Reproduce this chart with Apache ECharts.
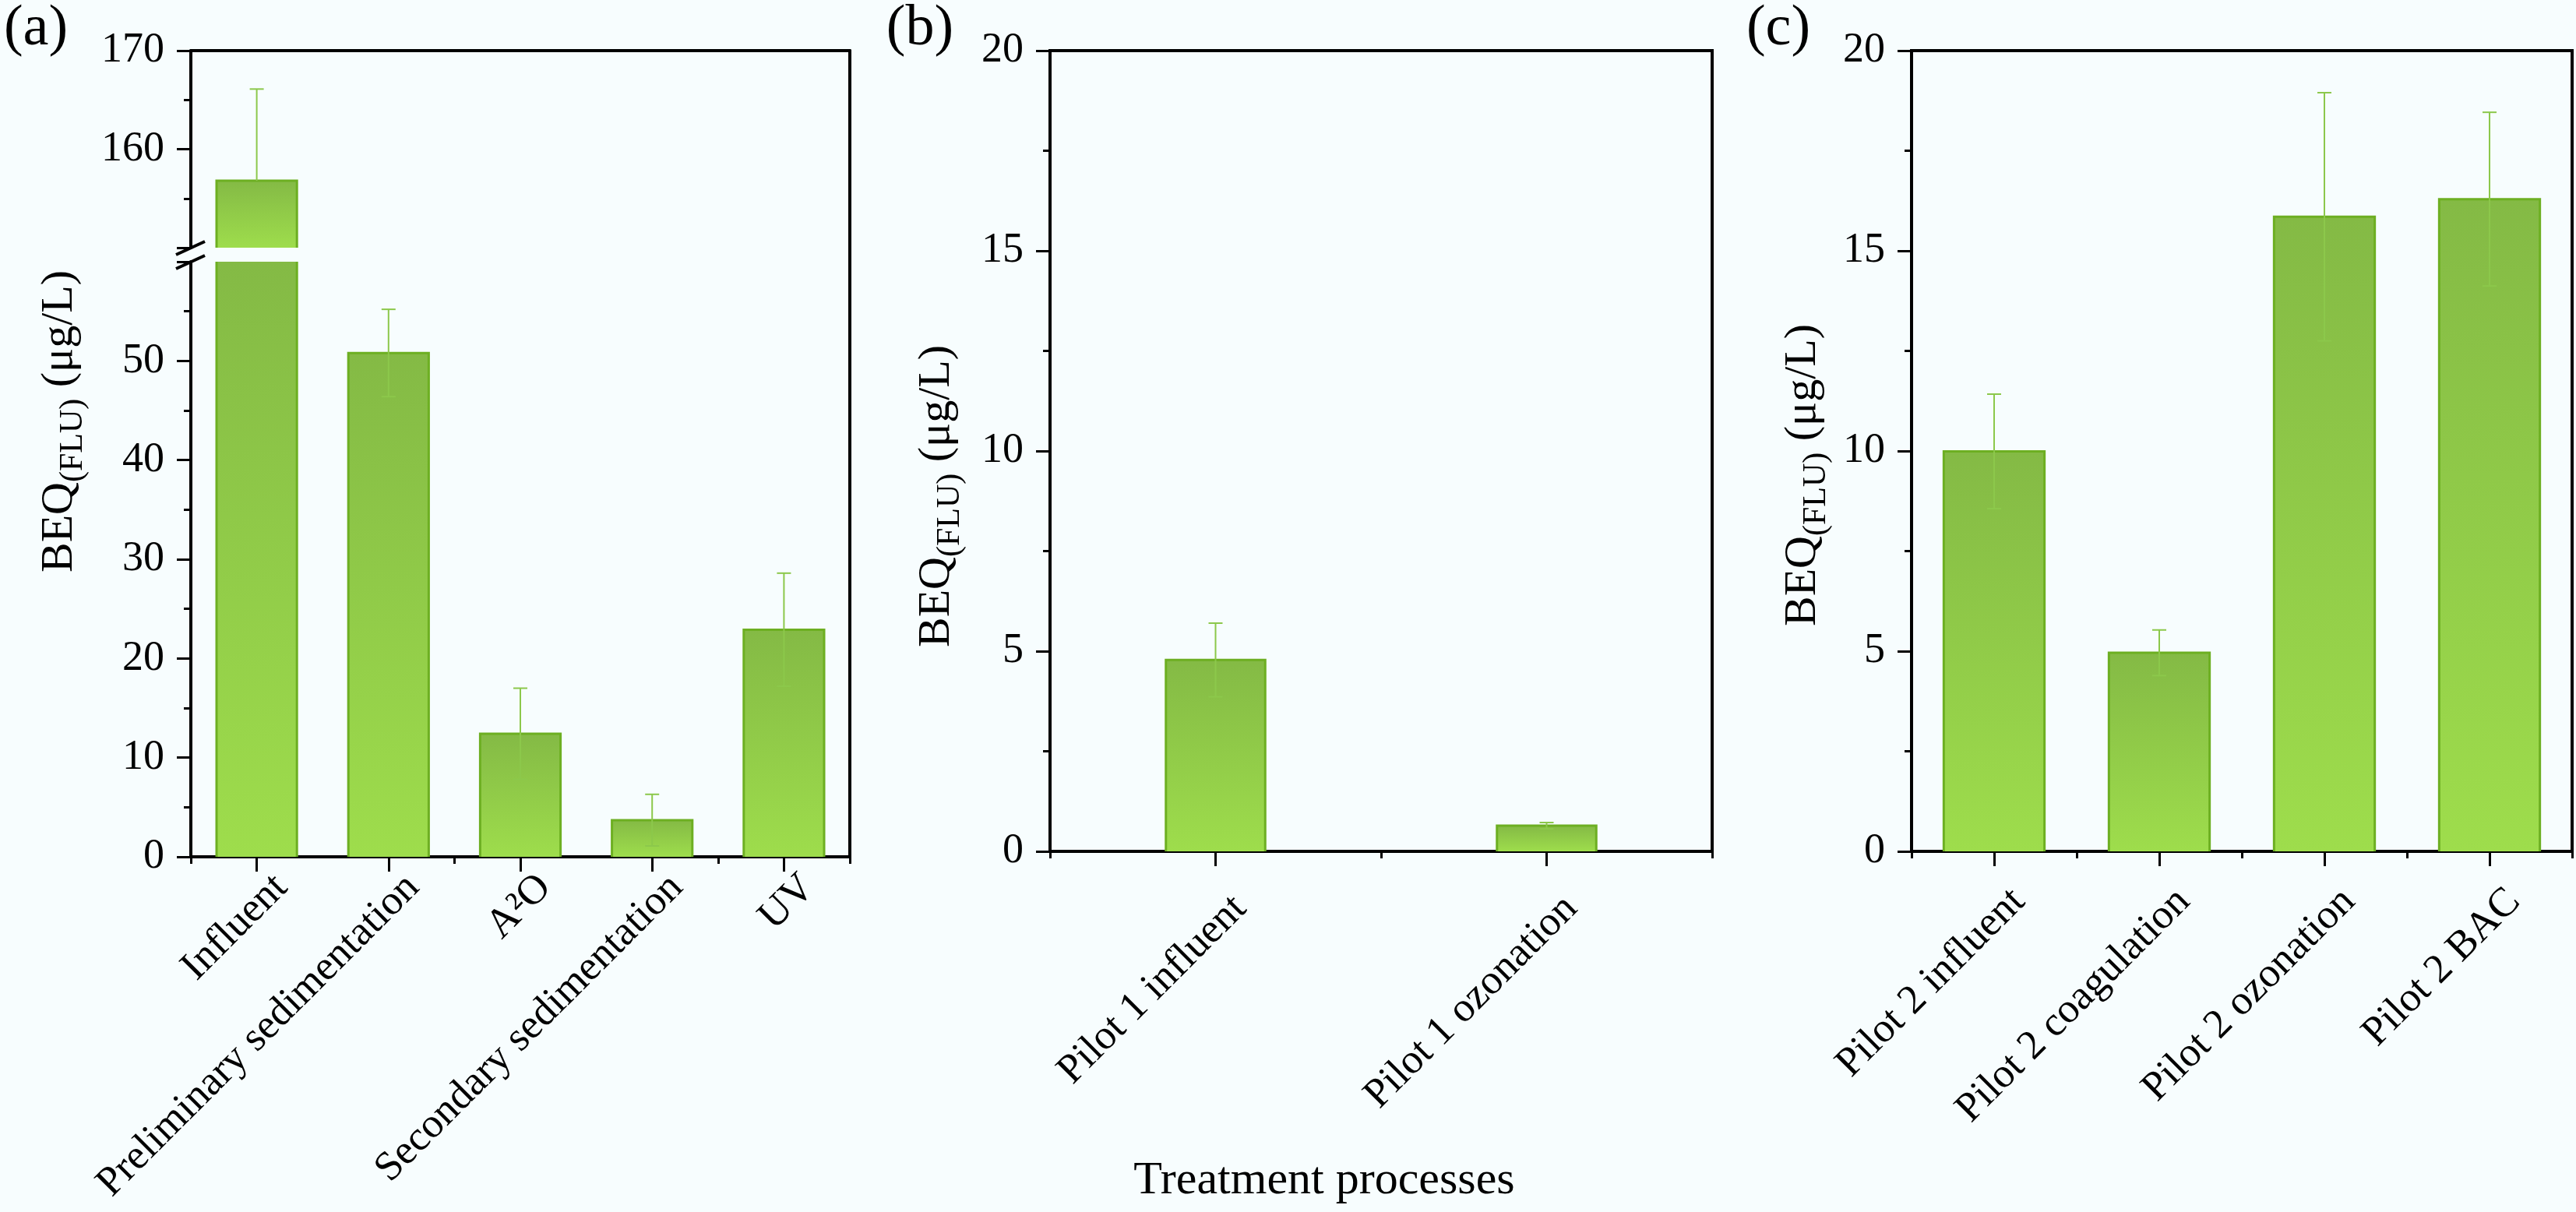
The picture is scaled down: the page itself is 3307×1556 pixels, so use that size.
<!DOCTYPE html>
<html>
<head>
<meta charset="utf-8">
<script src="https://cdn.jsdelivr.net/npm/echarts@6/dist/echarts.min.js"></script>
<style>
  html, body { margin: 0; padding: 0; background: #f7fdfe; }
  #main { width: 3307px; height: 1556px; }
</style>
</head>
<body>
<div id="main"></div>
<script>
// data
const catsA = ['Influent', 'Preliminary sedimentation', 'A²O', 'Secondary sedimentation', 'UV'];
const valsA = [156.8, 50.8, 12.4, 3.7, 22.9];
const errA = [9.3, 4.4, 4.6, 2.6, 5.7];

const catsB = ['Pilot 1 influent', 'Pilot 1 ozonation'];
const valsB = [4.78, 0.64];
const errB = [0.92, 0.08];

const catsC = ['Pilot 2 influent', 'Pilot 2 coagulation', 'Pilot 2 ozonation', 'Pilot 2 BAC'];
const valsC = [9.99, 4.96, 15.85, 16.29];
const errC = [1.43, 0.57, 3.1, 2.17];

const FONT = 'Liberation Serif';
const BAR_TOP = '#84ba45';
const BAR_BOTTOM = '#9edd4c';
const BAR_EDGE = '#6daf22';
const ERR_COLOR = '#8cc84b';

// layout
const TOP = 65;
const A_LEFT = 245, A_W = 846, A_UP_BOTTOM = 318, A_LOW_TOP = 336, A_BOTTOM = 1100;
const B_LEFT = 1348, B_W = 850;
const C_LEFT = 2454, C_W = 848;
const BC_BOTTOM = 1093;

const chart = echarts.init(document.getElementById('main'));

function pack(vals, errs) {
  return vals.map((v, i) => [i, v, errs[i]]);
}

// bars + error bars, clipped by hand so the broken axis looks right
function makeRender(barRatio) {
  return function (params, api) {
    const cs = params.coordSys;
    const i = api.value(0), v = api.value(1), e = api.value(2);
    const pTop = api.coord([i, v]);
    const cx = pTop[0];
    const bw = api.size([1, 0])[0] * barRatio;
    const yBase = api.coord([i, 0])[1];
    const y0 = Math.max(pTop[1], cs.y);
    const y1 = Math.min(yBase, cs.y + cs.height);
    if (y1 <= y0) return;
    const topClipped = pTop[1] < cs.y;
    const xl = cx - bw / 2, xr = cx + bw / 2;
    const children = [{
      type: 'rect',
      shape: { x: xl, y: y0, width: bw, height: y1 - y0 },
      style: {
        fill: {
          type: 'linear', x: 0, y: 0, x2: 0, y2: 1,
          colorStops: [{ offset: 0, color: BAR_TOP }, { offset: 1, color: BAR_BOTTOM }]
        }
      }
    }];
    const edge = { stroke: BAR_EDGE, lineWidth: 3, fill: null };
    if (topClipped) {
      children.push({ type: 'line', shape: { x1: xl, y1: y0, x2: xl, y2: y1 }, style: edge });
      children.push({ type: 'line', shape: { x1: xr, y1: y0, x2: xr, y2: y1 }, style: edge });
    } else {
      children.push({ type: 'polyline', shape: { points: [[xl, y1], [xl, y0], [xr, y0], [xr, y1]] }, style: edge });
      const hi = api.coord([i, v + e])[1];
      const lo = api.coord([i, v - e])[1];
      const es = { stroke: ERR_COLOR, lineWidth: 2 };
      const cap = 9;
      if (hi >= cs.y - 0.5) {
        children.push({ type: 'line', shape: { x1: cx, y1: pTop[1], x2: cx, y2: hi }, style: es });
        children.push({ type: 'line', shape: { x1: cx - cap, y1: hi, x2: cx + cap, y2: hi }, style: es });
      }
      if (lo <= cs.y + cs.height + 0.5) {
        children.push({ type: 'line', shape: { x1: cx, y1: pTop[1], x2: cx, y2: lo }, style: es });
        children.push({ type: 'line', shape: { x1: cx - cap, y1: lo, x2: cx + cap, y2: lo }, style: es });
      }
    }
    return { type: 'group', children: children };
  };
}

const axisLine = { show: true, onZero: false, lineStyle: { color: '#000', width: 4 } };
const noAxis = { axisLine: { show: false }, axisTick: { show: false }, axisLabel: { show: false }, splitLine: { show: false } };

function yAxis(grid, min, max, interval, labelExtra) {
  return {
    type: 'value', gridIndex: grid, min: min, max: max, interval: interval,
    axisLine: axisLine,
    axisTick: { show: true, length: 18, lineStyle: { color: '#000', width: 3 } },
    minorTick: { show: true, splitNumber: 2, length: 9, lineStyle: { color: '#000', width: 3 } },
    axisLabel: Object.assign({ margin: 34, fontFamily: FONT, fontSize: 54, color: '#000' }, labelExtra || {}),
    splitLine: { show: false }
  };
}

// rotated labels end a little right of and below their tick
function xMain(grid, cats, margin) {
  return {
    type: 'category', gridIndex: grid, data: cats, position: 'bottom',
    axisLine: axisLine,
    axisTick: { show: true, alignWithLabel: true, length: 19, lineStyle: { color: '#000', width: 3 } },
    axisLabel: {
      interval: 0, rotate: 45, margin: margin, align: 'right', verticalAlign: 'top', lineHeight: 89,
      fontFamily: FONT, fontSize: 53, color: '#000'
    },
    splitLine: { show: false }
  };
}

function xEdges(grid, cats) {
  return {
    type: 'category', gridIndex: grid, data: cats, position: 'bottom',
    axisLine: { show: false },
    axisTick: { show: true, length: 9, lineStyle: { color: '#000', width: 3 } },
    axisLabel: { show: false },
    splitLine: { show: false }
  };
}

function yName(x, y) {
  return {
    type: 'text', x: x, y: y, rotation: Math.PI / 2,
    style: {
      text: '{m|BEQ}{s|(FLU)}{m| (μg/L)}',
      align: 'center', verticalAlign: 'middle',
      rich: {
        m: { fontFamily: FONT, fontSize: 58, lineHeight: 76, fill: '#000', verticalAlign: 'middle' },
        s: { fontFamily: FONT, fontSize: 42, lineHeight: 42, fill: '#000', verticalAlign: 'bottom' }
      }
    }
  };
}

function panelTag(text, x) {
  return {
    type: 'text', x: x, y: 38,
    style: { text: text, fontFamily: FONT, fontSize: 74, fill: '#000', align: 'center', verticalAlign: 'middle' }
  };
}

function slash(cy) {
  return {
    type: 'line',
    shape: { x1: A_LEFT - 19, y1: cy + 9, x2: A_LEFT + 18, y2: cy - 8 },
    style: { stroke: '#000', lineWidth: 4 }
  };
}

function grid(left, top, width, height) {
  return { left: left, top: top, width: width, height: height, containLabel: false, outerBoundsMode: 'none' };
}

const option = {
  backgroundColor: '#f7fdfe',
  animation: false,
  grid: [
    grid(A_LEFT, TOP, A_W, A_UP_BOTTOM - TOP),
    grid(A_LEFT, A_LOW_TOP, A_W, A_BOTTOM - A_LOW_TOP),
    grid(A_LEFT, TOP, A_W, A_BOTTOM - TOP),
    Object.assign(grid(B_LEFT, TOP, B_W, BC_BOTTOM - TOP), { show: true, borderColor: '#000', borderWidth: 4 }),
    Object.assign(grid(C_LEFT, TOP, C_W, BC_BOTTOM - TOP), { show: true, borderColor: '#000', borderWidth: 4 })
  ],
  xAxis: [
    Object.assign({ type: 'category', gridIndex: 0, data: catsA, position: 'top' }, noAxis, { axisLine: axisLine }),
    xMain(1, catsA, 0),
    xEdges(1, catsA),
    Object.assign({ type: 'value', gridIndex: 2, position: 'top', min: 0, max: 1 }, noAxis),
    xMain(3, catsB, 34),
    xEdges(3, catsB),
    xMain(4, catsC, 25),
    xEdges(4, catsC)
  ],
  yAxis: [
    yAxis(0, 150, 170, 10, { showMinLabel: false }),
    yAxis(1, 0, 60, 10, { showMaxLabel: false }),
    Object.assign({ type: 'value', gridIndex: 2, position: 'right', min: 0, max: 1 }, noAxis, { axisLine: axisLine }),
    yAxis(3, 0, 20, 5),
    yAxis(4, 0, 20, 5)
  ],
  series: [
    { type: 'custom', xAxisIndex: 0, yAxisIndex: 0, renderItem: makeRender(0.61), data: pack(valsA, errA) },
    { type: 'custom', xAxisIndex: 1, yAxisIndex: 1, renderItem: makeRender(0.61), data: pack(valsA, errA) },
    { type: 'custom', xAxisIndex: 4, yAxisIndex: 3, renderItem: makeRender(0.30), data: pack(valsB, errB) },
    { type: 'custom', xAxisIndex: 6, yAxisIndex: 4, renderItem: makeRender(0.61), data: pack(valsC, errC) }
  ],
  graphic: [
    panelTag('(a)', 46),
    panelTag('(b)', 1181),
    panelTag('(c)', 2283),
    yName(77, 541),
    yName(1203, 637),
    yName(2315, 610),
    slash(A_UP_BOTTOM),
    slash(A_LOW_TOP),
    {
      type: 'text', x: 1700, y: 1516,
      style: { text: 'Treatment processes', fontFamily: FONT, fontSize: 60, fill: '#000', align: 'center', verticalAlign: 'middle' }
    }
  ]
};

chart.setOption(option);
</script>
</body>
</html>
